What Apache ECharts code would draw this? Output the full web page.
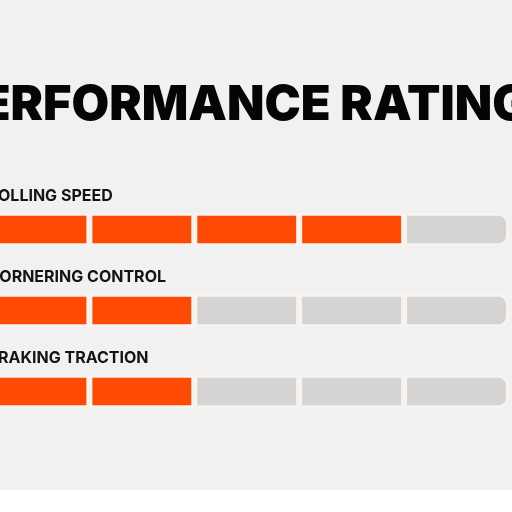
<!DOCTYPE html>
<html>
<head>
<meta charset="utf-8">
<script src="https://cdn.jsdelivr.net/npm/echarts@6/dist/echarts.min.js"></script>
<style>
html,body{margin:0;padding:0;background:#ffffff;overflow:hidden;}
#chart{width:514px;height:490px;margin-left:-2px;background:#f1f1f1;}
</style>
</head>
<body>
<div id="chart"></div>
<script>
const titleText = 'PERFORMANCE RATINGS';
const categories = ['ROLLING SPEED', 'CORNERING CONTROL', 'BRAKING TRACTION'];
const ratings = [4, 2, 2];
const segmentCount = 5;

const ORANGE = '#fe4a02';
const GREY = '#d6d4d2';
const GAP = '#f7f3f0';
const FONT = 'Inter';

const chart = echarts.init(document.getElementById('chart'), null, {renderer: 'canvas'});

const series = [];
for (let s = 0; s < segmentCount; s++) {
  series.push({
    type: 'bar',
    stack: 'rating',
    barWidth: 33.5,
    silent: true,
    animation: false,
    data: categories.map((c, j) => ({
      value: 1,
      itemStyle: {
        color: s < ratings[j] ? ORANGE : GREY,
        borderColor: GAP,
        borderWidth: 3,
        borderRadius: s === segmentCount - 1 ? [0, 9, 9, 0] : 0
      }
    })),
    label: s === 0 ? {
      show: true,
      position: [-9, -17],
      align: 'left',
      verticalAlign: 'middle',
      formatter: p => p.name,
      fontFamily: FONT,
      fontWeight: 700,
      fontSize: 16,
      color: '#141414'
    } : {show: false}
  });
}

chart.setOption({
  backgroundColor: '#f1f1f1',
  animation: false,
  title: {
    text: titleText,
    left: 'center',
    top: 72,
    padding: [5, 5, 5, 14],
    textStyle: {fontFamily: FONT, fontWeight: 900, fontSize: 48.7, color: '#050505', lineHeight: 56}
  },
  grid: {left: 0, right: 3, top: 189, bottom: 58, containLabel: false},
  xAxis: {type: 'value', min: 0.129, max: segmentCount, show: false},
  yAxis: {type: 'category', data: categories, inverse: true, show: false},
  series: series
});
</script>
</body>
</html>
